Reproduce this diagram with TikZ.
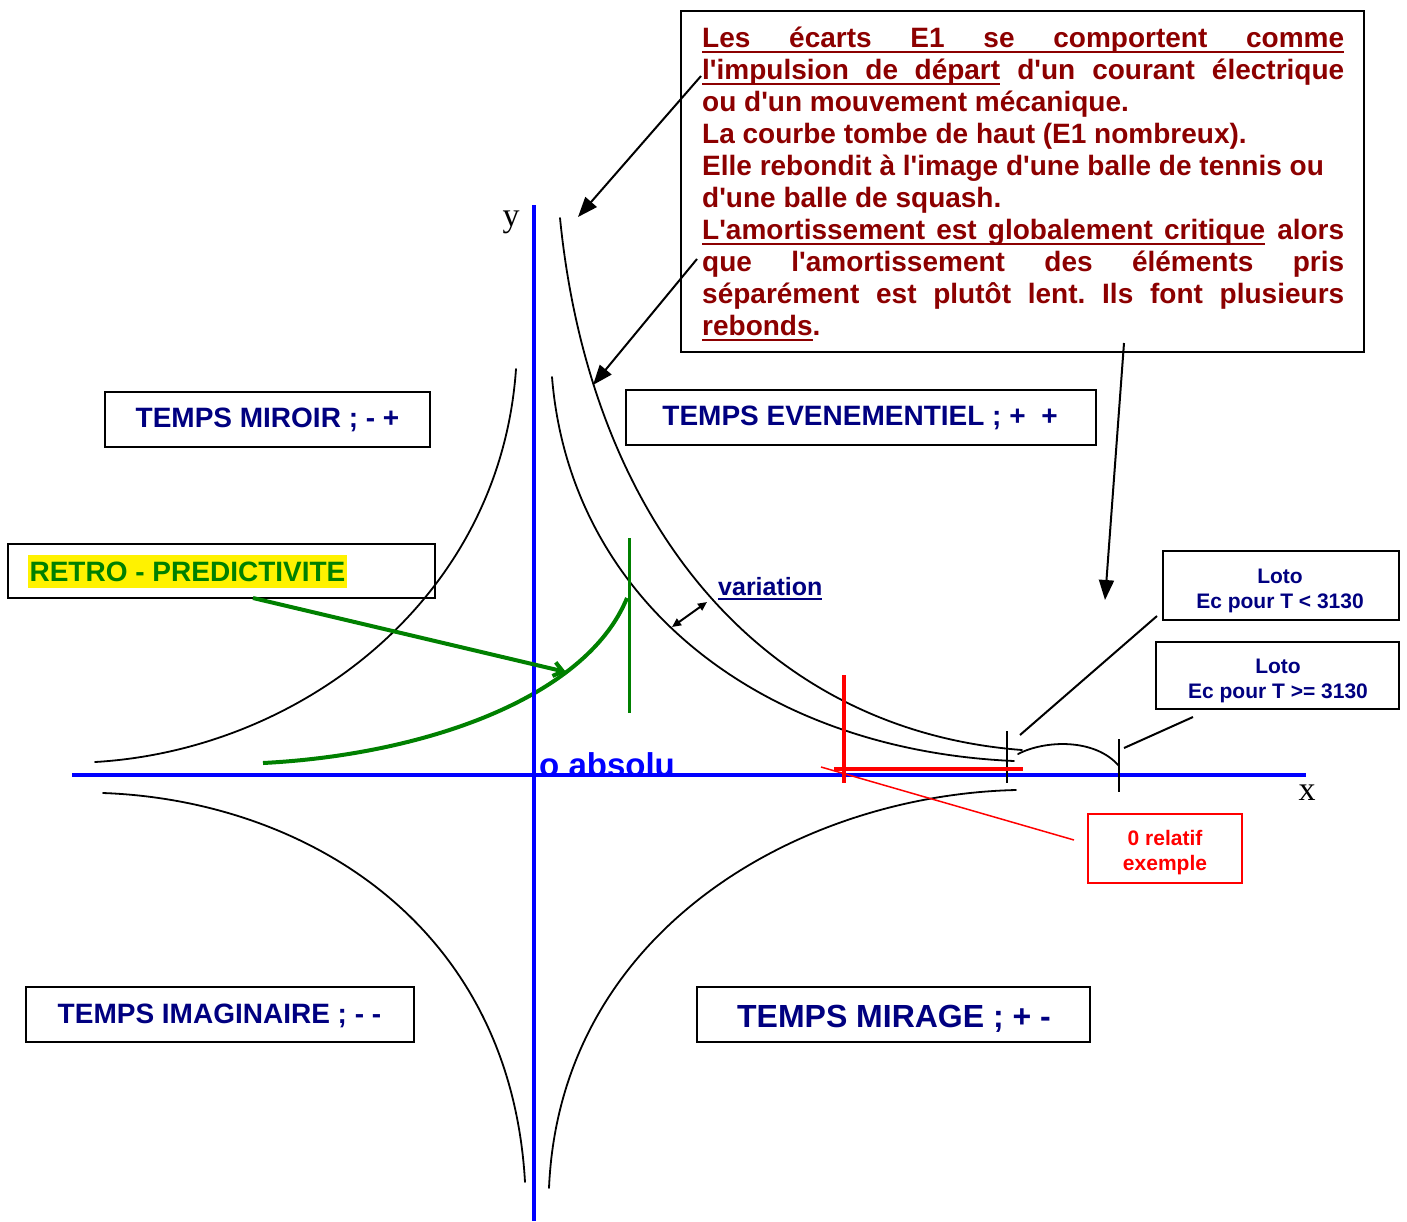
\documentclass[tikz,border=0pt]{standalone}
\usepackage{fontspec}
\setmainfont{Liberation Sans}
\newfontfamily\myserif{Liberation Serif}
\usetikzlibrary{arrows.meta}
\definecolor{navy}{RGB}{0,0,128}
\definecolor{dred}{RGB}{140,0,0}
\definecolor{gr}{RGB}{0,128,0}
\definecolor{bl}{RGB}{0,0,255}
\definecolor{rd}{RGB}{255,0,0}
\newcommand{\qs}{\textquotesingle}
\newcommand{\myul}[1]{\leavevmode\setbox0\hbox{#1}\rlap{\rule[-6pt]{\wd0}{2.5pt}}\box0\relax}
\newcommand{\myulb}[1]{\leavevmode\setbox0\hbox{#1}\rlap{\rule[-5pt]{\wd0}{2pt}}\box0\relax}
\begin{document}
\frenchspacing
\begin{tikzpicture}[x=1pt,y=-1pt,
  box/.style={draw, line width=2pt, inner sep=0pt},
  lab/.style={text=navy, inner sep=0pt, font=\fontsize{28}{32}\selectfont\bfseries},
  twoline/.style={align=center, inner sep=0pt, font=\fontsize{21}{25}\selectfont\bfseries},
  blk/.style={line width=1.8pt, line cap=round},
  conn/.style={line width=2pt},
  bigtip/.style={-{Triangle[length=20pt,width=15pt]}},
  tickmark/.style={line width=1.6pt}]
\useasboundingbox (0,0) rectangle (1407,1221);

% ---------- curves ----------
\coordinate (c1a) at (560,218); \coordinate (c1b) at (1022,750);
\draw[blk] (c1a) .. controls (590,520) and (760,730) .. (c1b);
\coordinate (c2a) at (552,377); \coordinate (c2b) at (1014,761);
\draw[blk] (c2a) .. controls (570,600) and (760,750) .. (c2b);
\coordinate (c3a) at (516,369); \coordinate (c3b) at (95,762);
\draw[blk] (c3a) .. controls (500,600) and (300,750) .. (c3b);
\coordinate (c4a) at (103,793); \coordinate (c4b) at (525,1182);
\draw[blk] (c4a) .. controls (300,800) and (510,920) .. (c4b);
\coordinate (c5a) at (1016,790); \coordinate (c5b) at (549,1188);
\draw[blk] (c5a) .. controls (800,795) and (560,930) .. (c5b);
\coordinate (b1) at (1018,754);
\coordinate (b2) at (1119,766);
\draw[blk] (b1) .. controls (1045,740) and (1095,738) .. (b2);

% ---------- green ----------
\coordinate (g1) at (263,763); \coordinate (g2) at (627,598);
\draw[gr, line width=4pt] (g1) .. controls (420,755) and (585,700) .. (g2);
\coordinate (gv1) at (629,538);
\coordinate (gv2) at (629,713);
\draw[gr, line width=3pt] (gv1) -- (gv2);

% ---------- labels ----------
\node[anchor=base west, inner sep=0pt, text=bl, font=\fontsize{33}{38}\selectfont\bfseries] (oabs) at (539,776) {o absolu};
\node[inner sep=0pt, font=\fontsize{34}{40}\selectfont\myserif] (ylab) at (511,222) {y};
\node[inner sep=0pt, font=\fontsize{34}{40}\selectfont\myserif] (xlab) at (1307,793) {x};

% ---------- axes ----------
\coordinate (xl) at (72,775);
\coordinate (xr) at (1306,775);
\coordinate (yt) at (534,205);
\coordinate (yb) at (534,1221);
\draw[bl, line width=4pt] (xl) -- (xr);
\draw[bl, line width=4pt] (yt) -- (yb);

% ---------- ticks ----------
\coordinate (t1a) at (1007,731); \coordinate (t1b) at (1007,783);
\coordinate (t2a) at (1119,739); \coordinate (t2b) at (1119,792);
\draw[tickmark] (t1a) -- (t1b);
\draw[tickmark] (t2a) -- (t2b);

% ---------- red ----------
\coordinate (rv1) at (844,675); \coordinate (rv2) at (844,783);
\coordinate (rh1) at (834,769); \coordinate (rh2) at (1023,769);
\draw[rd, line width=4pt] (rv1) -- (rv2);
\draw[rd, line width=4pt] (rh1) -- (rh2);
\node[box, draw=rd, minimum width=154, minimum height=69] (rbox) at (1165,848.5) {};
\node[twoline, text=rd] (rtxt) at (1165,853) {0 relatif\\exemple};
\coordinate (rl1) at (821,767);
\coordinate (rl2) at (1074,840);
\draw[rd, line width=1.5pt] (rl1) -- (rl2);

% ---------- text box ----------
\node[box, minimum width=683, minimum height=341] (tbox) at (1022.5,181.5) {};
\node[anchor=base west, inner sep=0pt, text=dred] (txt) at (702,47) {\parbox[t]{642pt}{\fontsize{28}{32}\selectfont\bfseries\frenchspacing
\myul{\makebox[642pt][s]{Les écarts E1 se comportent comme}}\\
\makebox[642pt][s]{\myul{\makebox[298pt][s]{l\qs impulsion de départ}} d\qs un courant électrique}\\
ou d\qs un mouvement mécanique.\\
La courbe tombe de haut (E1 nombreux).\\
Elle rebondit à l\qs image d\qs une balle de tennis ou\\
d\qs une balle de squash.\\
\makebox[642pt][s]{\myul{\makebox[563pt][s]{L\qs amortissement est globalement critique}} alors}\\
\makebox[642pt][s]{que l\qs amortissement des éléments pris}\\
\makebox[642pt][s]{séparément est plutôt lent. Ils font plusieurs}\\
\myul{rebonds}.}};

\coordinate (a1s) at (701,76); \coordinate (a1e) at (578,217);
\coordinate (a2s) at (697,259); \coordinate (a2e) at (593,385);
\coordinate (a3s) at (1124,343); \coordinate (a3e) at (1105,600);
\draw[conn, bigtip] (a1s) -- (a1e);
\draw[conn, bigtip] (a2s) -- (a2e);
\draw[conn, bigtip] (a3s) -- (a3e);

% ---------- quadrant boxes ----------
\node[box, minimum width=325, minimum height=55] (miroir) at (267.5,419.5) {};
\node[lab] (miroirt) at (267.5,420) {TEMPS MIROIR ; - +};
\node[box, minimum width=470, minimum height=55] (even) at (861,417.5) {};
\node[lab] (event) at (860,418) {TEMPS EVENEMENTIEL ; +\ \ +};
\node[box, minimum width=388, minimum height=55] (imag) at (220,1014.5) {};
\node[lab] (imagt) at (219.5,1016) {TEMPS IMAGINAIRE ; - -};
\node[box, minimum width=393, minimum height=55] (mirage) at (893.5,1014.5) {};
\node[lab, font=\fontsize{32}{36}\selectfont\bfseries] (miraget) at (894,1019) {TEMPS MIRAGE ; + -};

% ---------- retro ----------
\node[box, minimum width=427, minimum height=54] (retro) at (221.5,571) {};
\node[fill=yellow, text=gr, inner sep=0pt, minimum width=319, minimum height=33, font=\fontsize{28}{32}\selectfont\bfseries] (retrot) at (187.5,571.5) {RETRO - PREDICTIVITE};
\coordinate (gs) at (253,598);
\coordinate (ge) at (566,672);
\draw[gr, line width=4pt, -{Straight Barb[length=9pt,width=14pt]}] (gs) -- (ge);

% ---------- variation ----------
\coordinate (v1) at (672,627);
\coordinate (v2) at (707,602);
\draw[conn, {Triangle[length=9pt,width=8pt]}-{Triangle[length=9pt,width=8pt]}] (v1) -- (v2);
\node[anchor=base west, inner sep=0pt, text=navy, font=\fontsize{25}{30}\selectfont\bfseries] (var) at (718,595) {\myulb{variation}};

% ---------- loto ----------
\node[box, minimum width=236, minimum height=69] (loto1) at (1281,585.5) {};
\node[twoline, text=navy] (loto1t) at (1280,591) {Loto\\Ec pour T < 3130};
\node[box, minimum width=243, minimum height=67] (loto2) at (1277.5,675.5) {};
\node[twoline, text=navy] (loto2t) at (1278,681) {Loto\\Ec pour T >= 3130};
\coordinate (l1s) at (1157,616); \coordinate (l1e) at (1020,735);
\coordinate (l2s) at (1193,717); \coordinate (l2e) at (1124,748);
\draw[conn] (l1s) -- (l1e);
\draw[conn] (l2s) -- (l2e);
\end{tikzpicture}
\end{document}
